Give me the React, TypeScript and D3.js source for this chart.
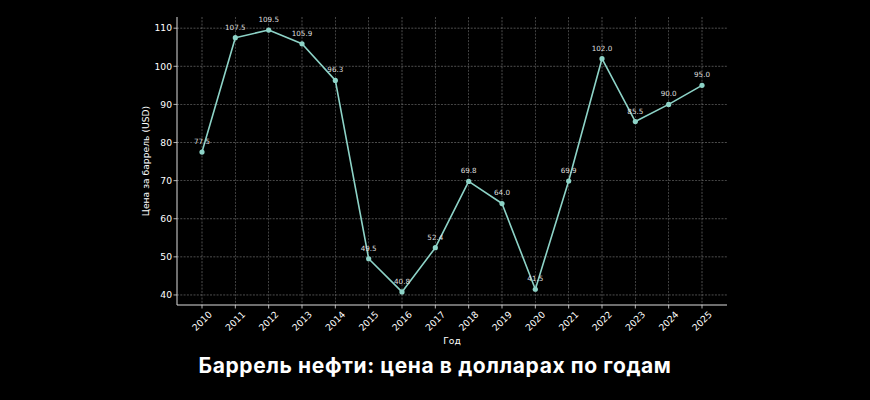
import React from "react";
import * as d3 from "d3";

const years = [2010, 2011, 2012, 2013, 2014, 2015, 2016, 2017, 2018, 2019, 2020, 2021, 2022, 2023, 2024, 2025];
const prices = [77.5, 107.5, 109.5, 105.9, 96.3, 49.5, 40.8, 52.4, 69.8, 64.0, 41.5, 69.9, 102.0, 85.5, 90.0, 95.0];
const yTicks = [40, 50, 60, 70, 80, 90, 100, 110];
const title = "Баррель нефти: цена в долларах по годам";
const xLabel = "Год";
const yLabel = "Цена за баррель (USD)";

export default function App() {
  const W = 870, H = 400;
  const left = 177, right = 727, top = 17, bottom = 305;
  const data = years.map((y, i) => ({ y, v: prices[i] }));
  const yMin = d3.min(prices)!, yMax = d3.max(prices)!;
  const ym = (yMax - yMin) * 0.05;
  const xm = (years[years.length - 1] - years[0]) * 0.05;
  const x = d3.scaleLinear().domain([years[0] - xm, years[years.length - 1] + xm]).range([left, right]);
  const y = d3.scaleLinear().domain([yMin - ym, yMax + ym]).range([bottom, top]);
  const line = d3.line<{ y: number; v: number }>().x(d => x(d.y)).y(d => y(d.v));
  const color = "#8dd3c7";
  const tickFont = "DejaVu Sans, sans-serif";
  return (
    <div style={{ position: "fixed", left: 0, top: 0, width: W, height: H, background: "#000" }}>
      <svg width={W} height={H} style={{ display: "block", background: "#000" }}>
        <rect x={0} y={0} width={W} height={H} fill="#000" />
        {yTicks.map(t => (
          <line key={"gy" + t} x1={left} x2={right} y1={y(t)} y2={y(t)} stroke="#9a9a9a" strokeWidth={0.6} strokeDasharray="2,1.3" opacity={0.85} />
        ))}
        {years.map(t => (
          <line key={"gx" + t} x1={x(t)} x2={x(t)} y1={top} y2={bottom} stroke="#9a9a9a" strokeWidth={0.6} strokeDasharray="2,1.3" opacity={0.85} />
        ))}
        <line x1={left} x2={left} y1={top} y2={bottom} stroke="#ddd" strokeWidth={1} />
        <line x1={left} x2={right} y1={bottom} y2={bottom} stroke="#ddd" strokeWidth={1} />
        {yTicks.map(t => (
          <g key={"ty" + t}>
            <line x1={left - 3.5} x2={left} y1={y(t)} y2={y(t)} stroke="#ddd" strokeWidth={0.8} />
            <text x={left - 5} y={y(t)} dy="0.35em" textAnchor="end" fontFamily={tickFont} fontSize={9.2} fill="#fff">{t}</text>
          </g>
        ))}
        {years.map(t => (
          <g key={"tx" + t}>
            <line x1={x(t)} x2={x(t)} y1={bottom} y2={bottom + 3.5} stroke="#ddd" strokeWidth={0.8} />
            <text transform={`translate(${x(t)},${bottom + 16}) rotate(-45)`} textAnchor="middle" dy="0.35em" fontFamily={tickFont} fontSize={9.2} fill="#fff">{t}</text>
          </g>
        ))}
        <text x={(left + right) / 2} y={341} dy="0.35em" textAnchor="middle" fontFamily={tickFont} fontSize={9.2} fill="#fff">{xLabel}</text>
        <text transform={`translate(146,${(top + bottom) / 2}) rotate(-90)`} textAnchor="middle" dy="0.35em" fontFamily={tickFont} fontSize={9.2} fill="#fff">{yLabel}</text>
        <path d={line(data)!} fill="none" stroke={color} strokeWidth={1.6} strokeLinejoin="round" />
        {data.map(d => (
          <circle key={"c" + d.y} cx={x(d.y)} cy={y(d.v)} r={2.6} fill={color} />
        ))}
        {data.map(d => (
          <text key={"a" + d.y} x={x(d.y)} y={y(d.v) - 8} textAnchor="middle" fontFamily={tickFont} fontSize={7.2} fill="#ddd">{d.v.toFixed(1)}</text>
        ))}
        <text x={435} y={373} textAnchor="middle" fontFamily="Inter, 'Noto Sans', sans-serif" fontWeight={700} fontSize={21} letterSpacing={0.6} fill="#fff">{title}</text>
      </svg>
    </div>
  );
}
